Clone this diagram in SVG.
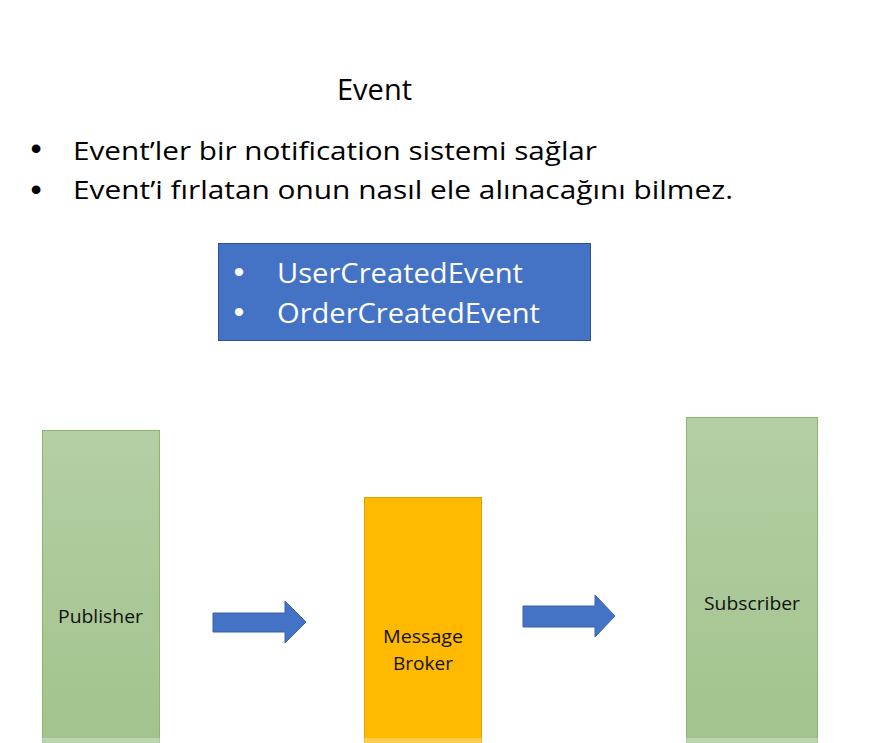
<svg xmlns="http://www.w3.org/2000/svg" width="892" height="743" viewBox="0 0 892 743">
  <defs>
    <linearGradient id="green" x1="0" y1="0" x2="0" y2="1">
      <stop offset="0" stop-color="#b4cfa4"/>
      <stop offset="1" stop-color="#a1c38c"/>
    </linearGradient>
    <style>
      text { font-family: "Open Sans", "Noto Sans", "Liberation Sans", sans-serif; fill: #000; }
      .big { font-size: 26px; }
      .bul { font-family: "Liberation Sans", Arial, sans-serif; font-size: 32px; text-anchor: middle; }
      .wbul { font-family: "Liberation Sans", Arial, sans-serif; font-size: 30px; text-anchor: middle; fill: #ffffff; }
      .title { font-size: 30px; }
      .white { fill: #ffffff; font-size: 28px; }
      .lbl { font-size: 19px; fill: #111; }
      .green { fill: url(#green); stroke: #8cb572; stroke-width: 1; }
      .orange { fill: #ffb900; stroke: #d9a300; stroke-width: 1; }
      .arrow { fill: #4472c4; stroke: #3a63ad; stroke-width: 1; }
    </style>
  </defs>
  <rect width="892" height="743" fill="#ffffff"/>

  <g id="header">
    <text class="title" x="337" y="100" textLength="75" lengthAdjust="spacingAndGlyphs">Event</text>
    <text class="bul" x="36" y="159">•</text>
    <text class="big" x="73" y="160" textLength="524" lengthAdjust="spacingAndGlyphs">Event’ler bir notification sistemi sağlar</text>
    <text class="bul" x="36" y="200">•</text>
    <text class="big" x="73" y="199" textLength="660" lengthAdjust="spacingAndGlyphs">Event’i fırlatan onun nasıl ele alınacağını bilmez.</text>
  </g>

  <g id="event-types">
    <rect x="218.5" y="243.5" width="372" height="97" fill="#4472c4" stroke="#2f528f" stroke-width="1"/>
    <text class="wbul" x="239" y="282">•</text>
    <text class="white" x="277" y="283" textLength="246" lengthAdjust="spacingAndGlyphs">UserCreatedEvent</text>
    <text class="wbul" x="239" y="322">•</text>
    <text class="white" x="277" y="323" textLength="263" lengthAdjust="spacingAndGlyphs">OrderCreatedEvent</text>
  </g>

  <g id="publisher">
    <rect class="green" x="42.5" y="430.5" width="117" height="320"/>
    <text class="lbl" x="58" y="623" textLength="85" lengthAdjust="spacingAndGlyphs">Publisher</text>
  </g>

  <g id="message-broker">
    <rect class="orange" x="364.5" y="497.5" width="117" height="260"/>
    <text class="lbl" x="383" y="643" textLength="80" lengthAdjust="spacingAndGlyphs">Message</text>
    <text class="lbl" x="393" y="670" textLength="60" lengthAdjust="spacingAndGlyphs">Broker</text>
  </g>

  <g id="subscriber">
    <rect class="green" x="686.5" y="417.5" width="131" height="340"/>
    <text class="lbl" x="704" y="610" textLength="96" lengthAdjust="spacingAndGlyphs">Subscriber</text>
  </g>

  <g id="connectors">
    <path class="arrow" d="M213,613 L285,613 L285,601 L306,622 L285,643 L285,632 L213,632 Z"/>
    <path class="arrow" d="M523,606 L595,606 L595,595 L615,616 L595,637 L595,627 L523,627 Z"/>
  </g>

  <rect x="0" y="738" width="892" height="5" fill="#ffffff" opacity="0.3"/>
</svg>
